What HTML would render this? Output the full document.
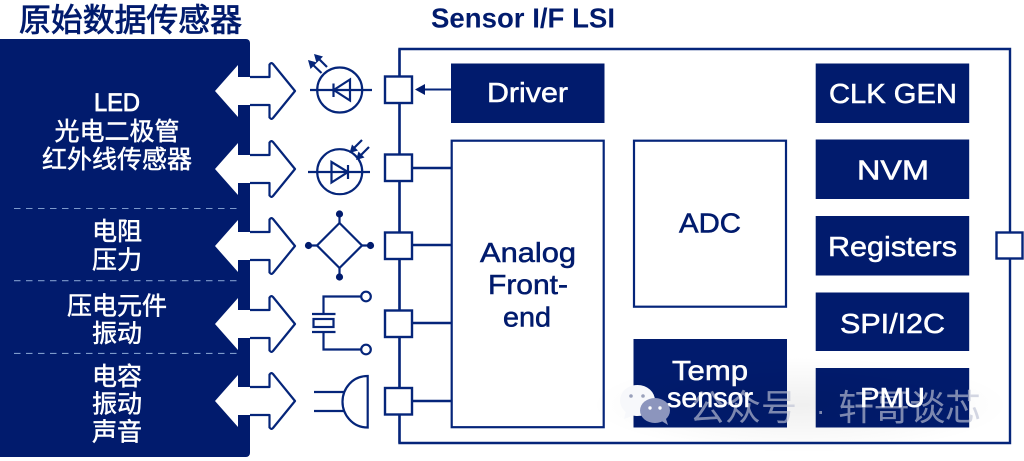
<!DOCTYPE html>
<html><head><meta charset="utf-8">
<style>
html,body{margin:0;padding:0;background:#fff;width:1024px;height:461px;overflow:hidden}
svg{display:block}
.l{font-family:"Liberation Sans","Noto Sans CJK SC",sans-serif;font-size:28px;fill:#fff;stroke:#fff;stroke-width:.55px;text-anchor:start}
.d{fill:#011b6d;stroke:#011b6d}
.c{font-family:"Liberation Sans","Noto Sans CJK SC",sans-serif;font-size:25px;fill:#fff;text-anchor:middle;stroke:#fff;stroke-width:.5px}
.s{fill:none;stroke:#05257a;stroke-width:2.4}
.box{fill:#011b6d}
.wm{font-family:"Liberation Sans","Noto Sans CJK SC",sans-serif;font-size:36px;fill:rgba(190,195,212,.66)}
</style></head>
<body>
<svg width="1024" height="461" viewBox="0 0 1024 461" xmlns="http://www.w3.org/2000/svg">
<defs>
<radialGradient id="g"><stop offset="0" stop-color="#000" stop-opacity=".06"/><stop offset="1" stop-color="#000" stop-opacity="0"/></radialGradient>
<g id="arrow"><path d="M215 0L238-26V-14H269.5V-27L272-28L295.5 0L272 28L269.5 27V14H238V26Z" fill="#fff"/>
<path d="M250-14H269.5V-26.5Q271.5-29 273-27L295 0L273 27Q271.5 29 269.5 26.5V14H250" fill="#fff" stroke="#05257a" stroke-width="2.2" stroke-linejoin="round"/></g>
</defs>

<!-- Sensor frame -->
<path class="s" d="M399.5 49H1010V443H399.5Z"/>

<!-- Left panel -->
<rect x="-6" y="39" width="256" height="418" rx="4" class="box"/>
<g stroke="#7d9acb" stroke-width="1.1" stroke-dasharray="6.5 5.5">
<path d="M14 208.5H237"/><path d="M14 280.7H237"/><path d="M14 353.4H237"/>
</g>

<!-- Arrows -->
<use href="#arrow" transform="translate(0 91)"/>
<use href="#arrow" transform="translate(0 169)"/>
<use href="#arrow" transform="translate(0 246)"/>
<use href="#arrow" transform="translate(0 324)"/>
<use href="#arrow" transform="translate(0 401)"/>

<!-- Titles -->
<text x="19" y="31" font-family="'Liberation Sans','Noto Sans CJK SC',sans-serif" font-size="31.7" fill="#011b6d" stroke="#011b6d" stroke-width=".8" textLength="223" lengthAdjust="spacingAndGlyphs">原始数据传感器</text>
<text x="431" y="27.5" font-family="'Liberation Sans',sans-serif" font-size="28" font-weight="700" fill="#011b6d" textLength="184" lengthAdjust="spacingAndGlyphs">Sensor I/F LSI</text>

<!-- Panel text -->
<text class="c" x="117" y="111" textLength="46" lengthAdjust="spacingAndGlyphs" style="stroke-width:.8px">LED</text>
<text class="c" x="117" y="140">光电二极管</text>
<text class="c" x="117" y="168">红外线传感器</text>
<text class="c" x="117" y="240">电阻</text>
<text class="c" x="117" y="268.5">压力</text>
<text class="c" x="117" y="314.5">压电元件</text>
<text class="c" x="117" y="342">振动</text>
<text class="c" x="117" y="385">电容</text>
<text class="c" x="117" y="412.5">振动</text>
<text class="c" x="117" y="440.5">声音</text>

<!-- Bus and connectors -->
<path class="s" d="M399.5 49V443"/>
<path class="s" d="M412 168H451.5M412 245H451.5M412 323H451.5M412 401H451.5"/>
<g fill="#fff" stroke="#05257a" stroke-width="2.4">
<rect x="385" y="76.5" width="27" height="26.5"/>
<rect x="385" y="154.5" width="27" height="26.5"/>
<rect x="385" y="232.5" width="27" height="26.5"/>
<rect x="385" y="310.5" width="27" height="26.5"/>
<rect x="385" y="388" width="27" height="26.5"/>
<rect x="996.5" y="232.5" width="26" height="26"/>
</g>
<path d="M451 89.5H422" stroke="#05257a" stroke-width="2"/>
<path d="M415 89.5L425 84V95Z" fill="#011b6d"/>

<!-- Sensor 1: LED -->
<g fill="none" stroke="#05257a" stroke-width="2.2">
<circle cx="339.7" cy="90" r="22.5"/>
<path d="M310 90H372"/>
<path d="M333.7 90L350 79.5V100.5Z"/>
<path d="M333.5 83.5V97"/>
<path d="M327 67L316 56"/>
<path d="M321.5 73L310 62"/>
</g>
<path d="M314 54L323 56.5L316.5 63Z M308 60L317 62.5L310.5 69Z" fill="#05257a"/>

<!-- Sensor 2: Photodiode -->
<g fill="none" stroke="#05257a" stroke-width="2.2">
<circle cx="339.7" cy="171.7" r="22.5"/>
<path d="M308 172H370"/>
<path d="M331.5 162L348 172L331.5 182.5Z"/>
<path d="M348 165V179"/>
<path d="M362 140L352 150"/>
<path d="M369 147L358.5 157.5"/>
</g>
<path d="M349.5 153L352 144.5L358 150.5Z M356 160L358.5 151.5L364.5 157.5Z" fill="#05257a"/>

<!-- Sensor 3: Bridge -->
<g fill="none" stroke="#05257a" stroke-width="2.2">
<path d="M339.5 223L362 245.5L339.5 268L317 245.5Z"/>
<path d="M308.5 245.5H317M362 245.5H370.5M339.5 214V223M339.5 268V277"/>
</g>
<g fill="#011b6d">
<circle cx="308.5" cy="245.5" r="3.6"/><circle cx="370.5" cy="245.5" r="3.6"/>
<circle cx="339.5" cy="214" r="3.6"/><circle cx="339.5" cy="277" r="3.6"/>
</g>

<!-- Sensor 4: Piezo -->
<g fill="none" stroke="#05257a" stroke-width="2.2">
<path d="M361 296.5H323.5V314M361 349.5H323.5V332"/>
<path d="M312 314H335.5M312 332H335.5"/>
<rect x="313.5" y="319" width="20" height="8"/>
<circle cx="366" cy="296.5" r="4.8"/>
<circle cx="366" cy="349.5" r="4.8"/>
</g>

<!-- Sensor 5: Mic -->
<g fill="none" stroke="#05257a" stroke-width="2.2">
<path d="M314 392H345M314 411H345"/>
<path d="M367.7 376V427.5C352 427.5 342.5 414 342.5 401.7C342.5 389 352 376 367.7 376Z"/>
</g>

<!-- Inner blocks -->
<rect x="451" y="63.5" width="153.5" height="59.5" class="box"/>
<rect x="815.7" y="63.5" width="153.5" height="59.5" class="box"/>
<rect x="815.7" y="139.5" width="153.5" height="59.5" class="box"/>
<rect x="815.7" y="216" width="153.5" height="59.5" class="box"/>
<rect x="815.7" y="292.5" width="153.5" height="58.5" class="box"/>
<rect x="815.7" y="368" width="153.5" height="59.5" class="box"/>
<rect x="633.5" y="339" width="153.5" height="88.5" class="box"/>
<rect x="451.7" y="140.7" width="152" height="286.5" fill="#fff" stroke="#05257a" stroke-width="2.2"/>
<rect x="634" y="140.7" width="152" height="166" fill="#fff" stroke="#05257a" stroke-width="2.2"/>

<!-- Block text -->
<text class="l" x="487" y="102" textLength="81" lengthAdjust="spacingAndGlyphs">Driver</text>
<text class="l" x="829" y="103" textLength="128" lengthAdjust="spacingAndGlyphs">CLK GEN</text>
<text class="l" x="857" y="179.5" textLength="72" lengthAdjust="spacingAndGlyphs">NVM</text>
<text class="l" x="828" y="256" textLength="129" lengthAdjust="spacingAndGlyphs">Registers</text>
<text class="l" x="840" y="333" textLength="105" lengthAdjust="spacingAndGlyphs">SPI/I2C</text>
<text class="l" x="672" y="380" textLength="76" lengthAdjust="spacingAndGlyphs">Temp</text>
<text class="l d" x="679" y="232.7" textLength="62" lengthAdjust="spacingAndGlyphs">ADC</text>
<text class="l d" x="480" y="262" textLength="96" lengthAdjust="spacingAndGlyphs">Analog</text>
<text class="l d" x="488" y="294" textLength="80" lengthAdjust="spacingAndGlyphs">Front-</text>
<text class="l d" x="503" y="326.7" textLength="48" lengthAdjust="spacingAndGlyphs">end</text>

<!-- Watermark -->
<ellipse cx="800" cy="405" rx="210" ry="48" fill="url(#g)"/>
<g>
<ellipse cx="637.5" cy="400.5" rx="17.5" ry="15.5" fill="#f7f8fb"/>
<path d="M626 411L624 419L635 415Z" fill="#f7f8fb"/>
<circle cx="631" cy="396" r="1.8" fill="#9aa1bb"/><circle cx="643" cy="396" r="1.8" fill="#9aa1bb"/>
<ellipse cx="655" cy="410.5" rx="15" ry="12.5" fill="#8c95bd"/>
<path d="M660 420L668 425L665 416Z" fill="#8c95bd"/>
<circle cx="650" cy="408" r="1.7" fill="#fff"/><circle cx="660" cy="408" r="1.7" fill="#fff"/>
</g>
<text class="wm" x="689" y="420">公众号</text>
<text class="wm" x="816" y="420" style="font-size:28px">·</text>
<text class="wm" x="838" y="420" textLength="143" lengthAdjust="spacing">轩哥谈芯</text>
<text class="l" x="860" y="407" textLength="65" lengthAdjust="spacingAndGlyphs">PMU</text>
<text class="l" x="667" y="407" textLength="86" lengthAdjust="spacingAndGlyphs">sensor</text>
</svg>
</body></html>
